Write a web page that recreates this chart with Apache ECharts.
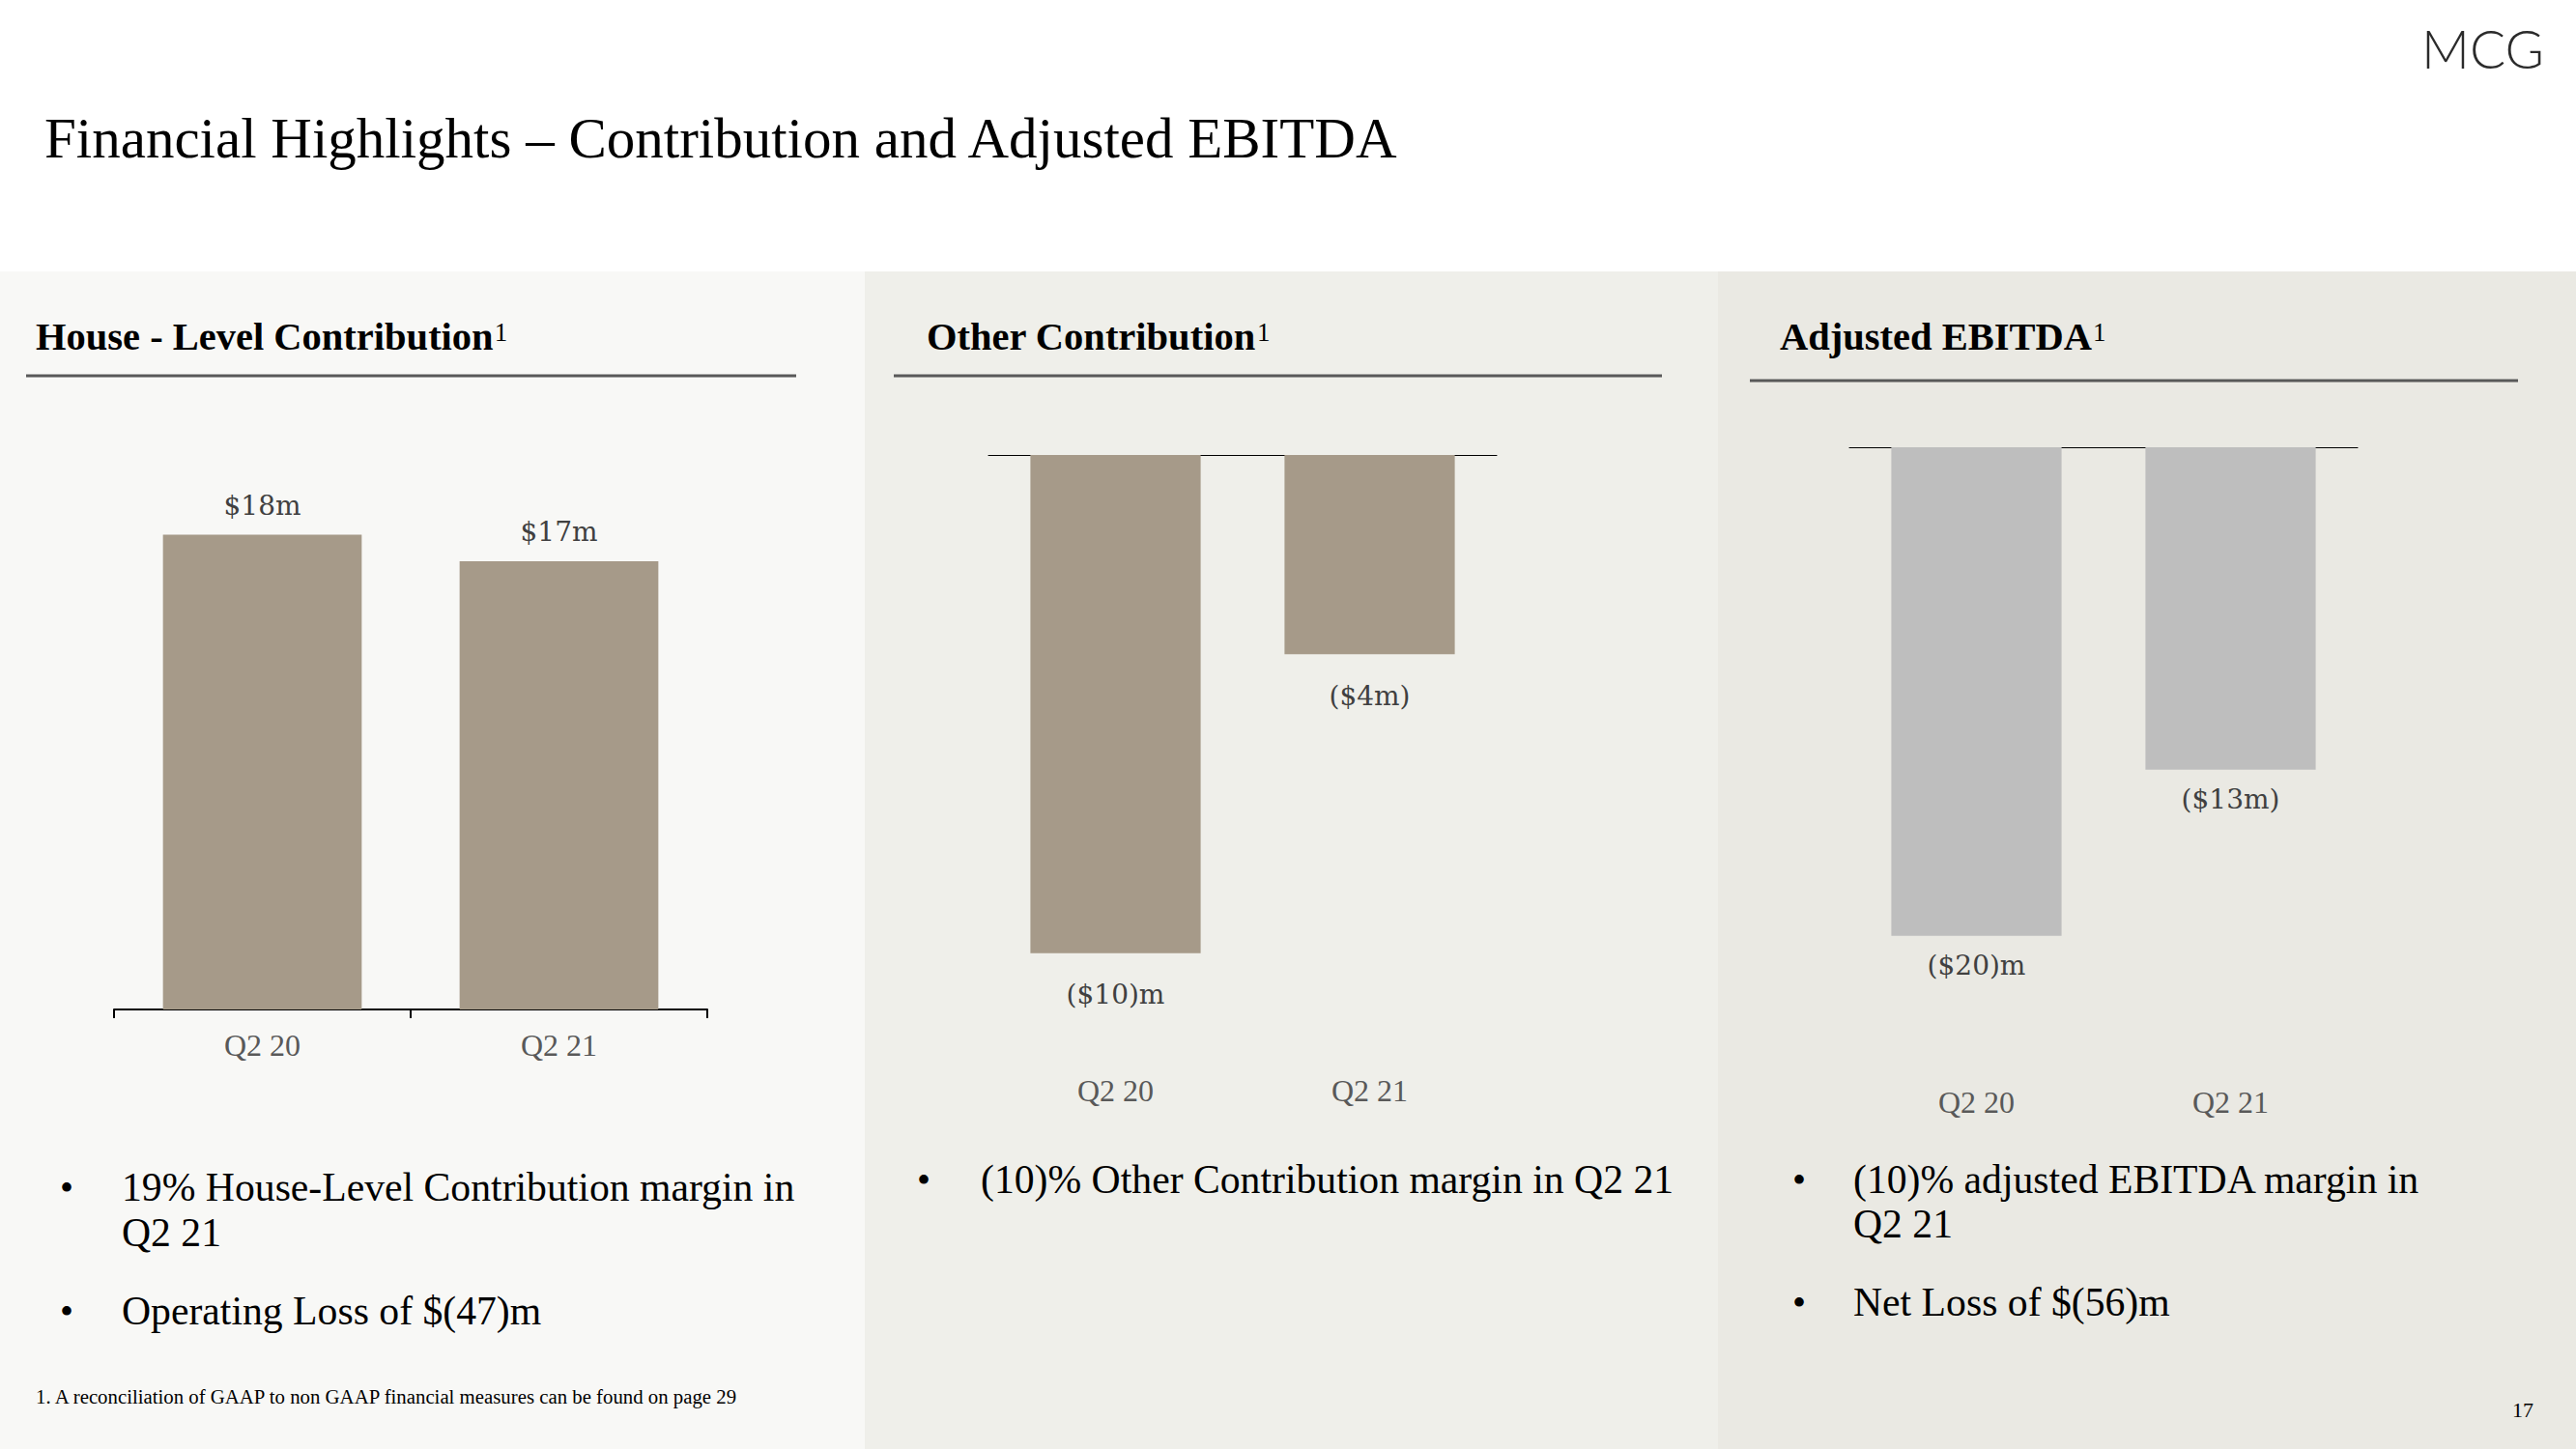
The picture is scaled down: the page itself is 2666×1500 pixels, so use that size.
<!DOCTYPE html>
<html>
<head>
<meta charset="utf-8">
<script src="https://cdn.jsdelivr.net/npm/echarts@6/dist/echarts.min.js"></script>
<style>
html, body { margin: 0; padding: 0; background: #ffffff; }
#chart { width: 2666px; height: 1500px; }
</style>
</head>
<body>
<div id="chart"></div>
<script>
// ---- data ----
const categories = ['Q2 20', 'Q2 21'];
const houseLevelValues = [18, 17];
const houseLevelLabels = ['$18m', '$17m'];
const otherValues = [-10, -4];
const otherLabels = ['($10)m', '($4m)'];
const ebitdaValues = [-20, -13.2];
const ebitdaLabels = ['($20)m', '($13m)'];

const SERIF = '"Liberation Serif", "Times New Roman", serif';
const SERIF2 = '"DejaVu Serif", serif';
const BAR_BROWN = '#a69a89';
const BAR_GREY = '#bebebe';

function mid(baseline, fs) { return baseline - 0.3375 * fs; }

function header(x, baseline, title) {
  return {
    type: 'text', x: x, y: mid(baseline, 40.5), z: 100,
    style: {
      text: '{h|' + title + '}{s|1}',
      textVerticalAlign: 'middle',
      rich: {
        h: { fontFamily: SERIF, fontSize: 40.5, fontWeight: 'bold', fill: '#000', verticalAlign: 'middle' },
        s: { fontFamily: SERIF, fontSize: 27, fontWeight: 'normal', fill: '#000', verticalAlign: 'middle', padding: [0, 0, 8, 1] }
      }
    }
  };
}
function rule(x1, x2, y) {
  return { type: 'rect', z: 50, shape: { x: x1, y: y - 1.5, width: x2 - x1, height: 3 }, style: { fill: '#595959' } };
}
function txt(x, baseline, text, fs, opts) {
  opts = opts || {};
  return {
    type: 'text', x: x, y: mid(baseline, fs), z: 100,
    style: Object.assign({
      text: text, fontFamily: SERIF, fontSize: fs, fill: '#000',
      textVerticalAlign: 'middle', textAlign: 'left'
    }, opts)
  };
}
function multi(x, baseline, text, fs, lh) {
  return {
    type: 'text', x: x, y: baseline - 0.3375 * fs - lh / 2, z: 100,
    style: {
      text: text, fontFamily: SERIF, fontSize: fs, lineHeight: lh, fill: '#000',
      textVerticalAlign: 'top', textAlign: 'left'
    }
  };
}
function bullet(cx, baseline) {
  return txt(cx, baseline, '\u2022', 40, { textAlign: 'center' });
}

const BODY = 41.7;

const chart = echarts.init(document.getElementById('chart'), null, { renderer: 'svg' });

const labelFont = { fontFamily: SERIF2, fontSize: 28, color: '#404040' };
const catLabel = { color: '#595959', fontFamily: SERIF, fontSize: 32 };

chart.setOption({
  animation: false,
  backgroundColor: '#ffffff',
  graphic: {
    elements: [
      { type: 'rect', z: -100, shape: { x: 0, y: 281, width: 895, height: 1219 }, style: { fill: '#f8f8f6' } },
      { type: 'rect', z: -100, shape: { x: 895, y: 281, width: 883, height: 1219 }, style: { fill: '#efefea' } },
      { type: 'rect', z: -100, shape: { x: 1778, y: 281, width: 888, height: 1219 }, style: { fill: '#eae9e3' } },

      txt(46, 163, 'Financial Highlights \u2013 Contribution and Adjusted EBITDA', 59),
      {
        type: 'text', x: 2506, y: 71 - 0.387 * 55, z: 100,
        style: { text: 'MCG', fontFamily: 'Lato, "Noto Sans", sans-serif', fontWeight: 300, fontSize: 55, fill: '#2b2b2b', textVerticalAlign: 'middle' }
      },

      header(37, 362, 'House - Level Contribution'),
      header(959, 362, 'Other Contribution'),
      header(1842, 362, 'Adjusted EBITDA'),
      rule(27, 824, 389),
      rule(925, 1720, 389),
      rule(1811, 2606, 394),

      bullet(69, 1243),
      multi(126, 1243, '19% House-Level Contribution margin in\nQ2 21', BODY, 47),
      bullet(69, 1371),
      txt(126, 1371, 'Operating Loss of $(47)m', BODY),

      bullet(956, 1235),
      txt(1015, 1235, '(10)% Other Contribution margin in Q2 21', BODY),

      bullet(1862, 1235),
      multi(1918, 1235, '(10)% adjusted EBITDA margin in\nQ2 21', BODY, 46),
      bullet(1862, 1362),
      txt(1918, 1362, 'Net Loss of $(56)m', BODY),

      txt(37, 1453, '1. A reconciliation of GAAP to non GAAP financial measures can be found on page 29', 20.8),
      txt(2622, 1467, '17', 22, { textAlign: 'right' })
    ]
  },
  grid: [
    { left: 118, top: 499, width: 614, height: 546 },
    { left: 1023, top: 471, width: 526, height: 619 },
    { left: 1914, top: 463, width: 526, height: 607 }
  ],
  xAxis: [
    {
      gridIndex: 0, type: 'category', data: categories,
      axisLine: { onZero: false, lineStyle: { color: '#000', width: 2 } },
      axisTick: { show: true, length: 9, lineStyle: { color: '#000', width: 2 } },
      axisLabel: Object.assign({ margin: 21 }, catLabel)
    },
    {
      gridIndex: 1, type: 'category', data: categories, position: 'bottom',
      axisLine: { show: false, onZero: false }, axisTick: { show: false },
      axisLabel: Object.assign({ margin: 23 }, catLabel)
    },
    {
      gridIndex: 1, type: 'category', data: categories, position: 'top',
      axisLine: { show: true, onZero: false, lineStyle: { color: '#000', width: 1 } },
      axisTick: { show: false }, axisLabel: { show: false }
    },
    {
      gridIndex: 2, type: 'category', data: categories, position: 'bottom',
      axisLine: { show: false, onZero: false }, axisTick: { show: false },
      axisLabel: Object.assign({ margin: 55 }, catLabel)
    },
    {
      gridIndex: 2, type: 'category', data: categories, position: 'top',
      axisLine: { show: true, onZero: false, lineStyle: { color: '#000', width: 1 } },
      axisTick: { show: false }, axisLabel: { show: false }
    }
  ],
  yAxis: [
    { gridIndex: 0, type: 'value', min: 0, max: 20, show: false },
    { gridIndex: 1, type: 'value', min: -12, max: 0, show: false },
    { gridIndex: 2, type: 'value', min: -24, max: 0, show: false }
  ],
  series: [
    {
      type: 'bar', xAxisIndex: 0, yAxisIndex: 0, data: houseLevelValues,
      barCategoryGap: '33%', itemStyle: { color: BAR_BROWN },
      label: Object.assign({ show: true, position: 'top', distance: 16,
        formatter: p => houseLevelLabels[p.dataIndex] }, labelFont)
    },
    {
      type: 'bar', xAxisIndex: 1, yAxisIndex: 1, data: otherValues,
      barCategoryGap: '33%', itemStyle: { color: BAR_BROWN },
      label: Object.assign({ show: true, position: 'bottom', distance: 29,
        formatter: p => otherLabels[p.dataIndex] }, labelFont)
    },
    {
      type: 'bar', xAxisIndex: 3, yAxisIndex: 2, data: ebitdaValues,
      barCategoryGap: '33%', itemStyle: { color: BAR_GREY },
      label: Object.assign({ show: true, position: 'bottom', distance: 17,
        formatter: p => ebitdaLabels[p.dataIndex] }, labelFont)
    }
  ]
});
</script>
</body>
</html>
